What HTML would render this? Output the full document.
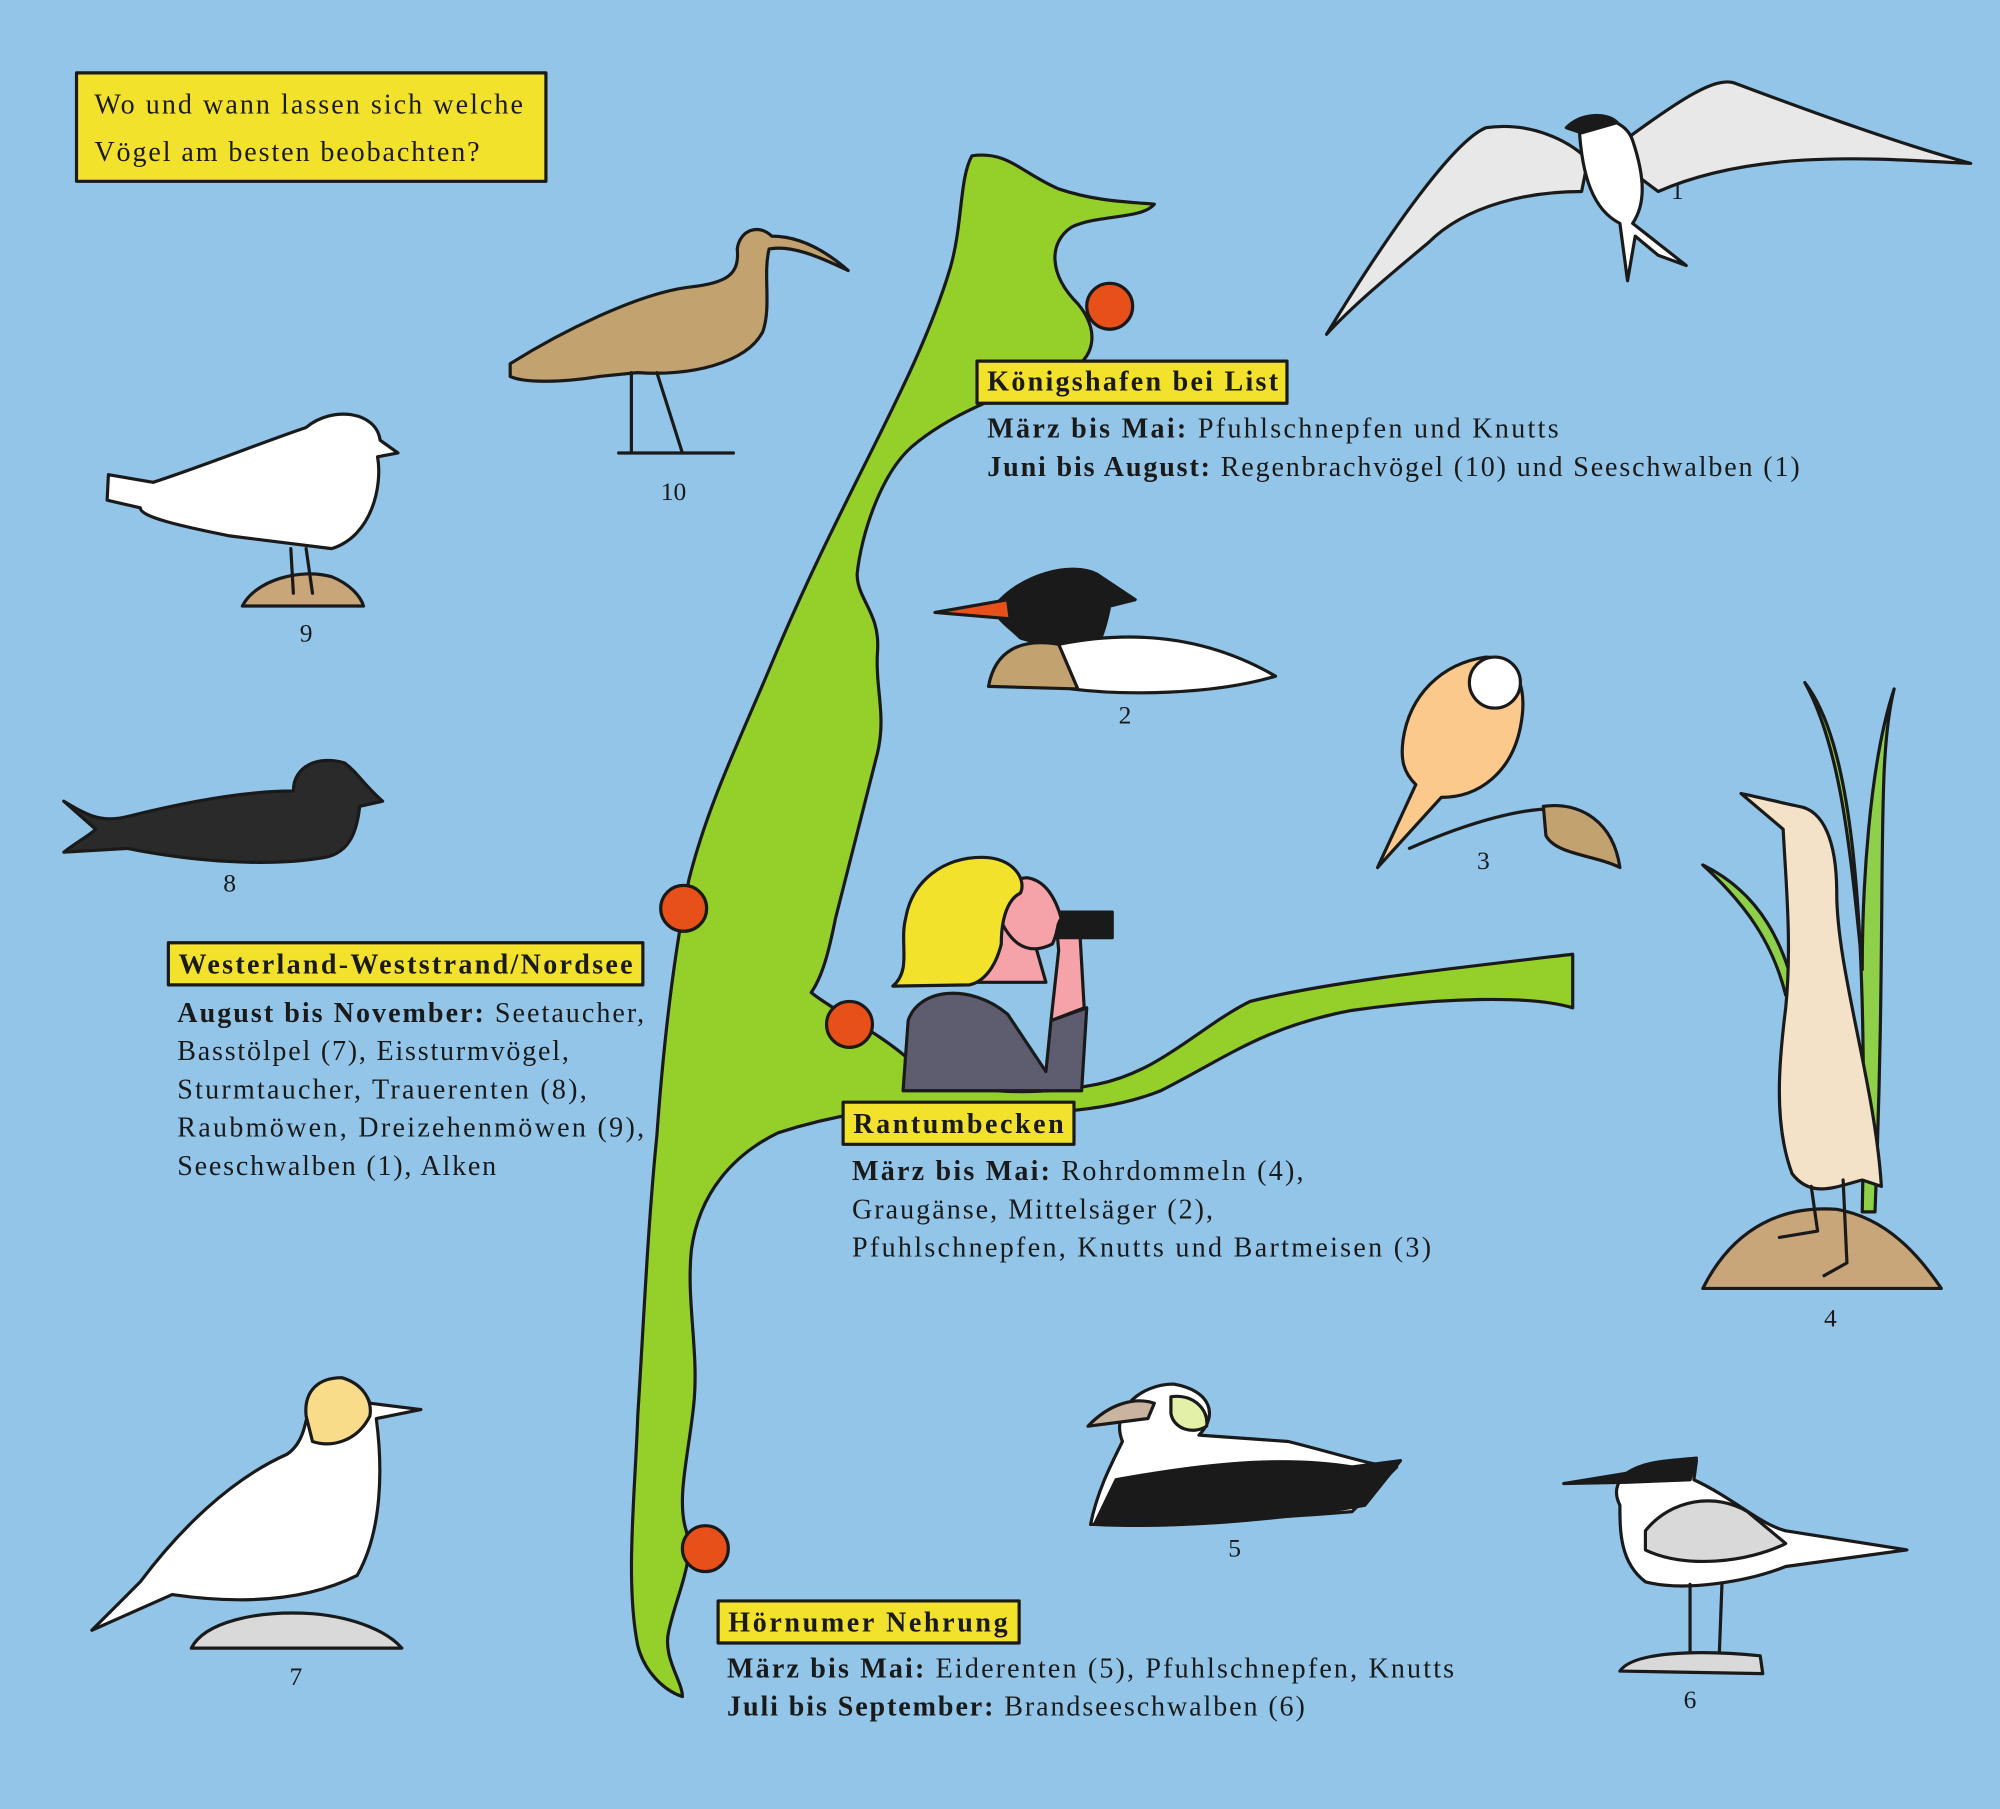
<!DOCTYPE html>
<html><head><meta charset="utf-8"><style>
html,body{margin:0;padding:0;background:#92c5e8}
svg{display:block}
text{font-family:"Liberation Serif",serif;fill:#1a1a1a}
</style></head><body>
<svg width="2000" height="1809" viewBox="0 0 1568 1418" xmlns="http://www.w3.org/2000/svg">
<rect width="1568" height="1418" fill="#92c5e8"/>
<g stroke="#1a1a1a" stroke-width="2.5" stroke-linejoin="round" stroke-linecap="round">
<path fill="#95d02a" d="M762,122 C790,118 800,135 830,148 C860,158 885,158 905,160 C895,172 860,168 840,178 C822,190 822,215 845,238 C862,258 860,282 835,292 C800,305 750,320 715,350 C690,372 675,420 672,450 C672,470 690,480 688,510 C686,540 695,560 688,590 C678,630 665,680 655,720 C650,745 645,765 636,778 C650,790 690,810 712,830 C730,855 800,862 860,850 C910,840 940,805 980,785 C1040,770 1130,760 1233,748 L1233,790 C1200,780 1130,782 1060,792 C990,805 960,830 910,855 C860,875 790,875 740,868 C700,866 650,875 610,888 C575,905 548,935 542,980 C538,1020 548,1060 544,1100 C540,1140 530,1175 538,1200 C545,1225 530,1250 524,1280 C520,1300 535,1318 535,1330 C520,1325 505,1310 500,1290 C490,1240 498,1170 500,1110 C505,1030 508,960 515,890 C520,820 528,750 540,690 C555,630 580,580 605,520 C630,460 655,410 680,360 C705,310 730,260 745,210 C755,175 752,140 762,122 Z"/>
<g fill="#e8501a"><circle cx="870" cy="240" r="18"/><circle cx="536" cy="712" r="18"/><circle cx="666" cy="803" r="18"/><circle cx="553" cy="1214" r="18"/></g>
<path fill="#f5a3a8" d="M740,770 L820,770 L800,700 L790,690 L760,700 Z"/>
<path fill="#5e5d70" d="M708,855 L712,800 C720,775 760,770 790,795 L820,840 L824,800 L852,790 L848,855 Z"/>
<path fill="#f5a3a8" d="M824,800 L830,745 L828,722 L846,720 L850,790 Z"/>
<rect x="810" y="715" width="62" height="20" fill="#1a1a1a"/>
<path fill="#f5a3a8" d="M790,690 C780,690 775,700 780,710 C790,740 805,750 825,740 C830,730 828,725 832,720 C828,705 820,690 805,688 Z"/>
<path fill="#f3e22c" d="M700,773 C715,760 705,740 710,720 C715,690 740,672 770,672 C795,672 805,690 800,700 C790,705 785,720 785,740 C780,760 770,770 760,772 Z"/>
<path fill="#e8e8e8" d="M1040,262 C1090,180 1140,110 1165,100 C1200,95 1230,110 1245,125 L1240,150 C1200,150 1150,160 1120,190 C1090,215 1060,240 1040,262 Z"/>
<path fill="#e8e8e8" d="M1260,120 C1320,75 1345,60 1360,65 C1400,80 1480,110 1545,128 C1480,125 1380,115 1300,150 Z"/>
<path fill="#fff" d="M1238,98 C1255,88 1275,95 1280,110 C1290,140 1290,160 1280,175 L1322,208 L1300,200 L1282,185 L1276,220 L1270,175 C1250,165 1240,140 1238,98 Z"/>
<path fill="#1a1a1a" d="M1228,100 C1240,88 1260,88 1268,96 L1240,104 Z"/>
<path fill="#c2a26e" d="M400,285 C440,260 500,230 540,225 C570,222 580,215 578,195 C580,180 595,175 605,185 C620,185 640,190 665,212 C640,200 620,192 603,195 C598,215 605,240 598,260 C585,285 540,295 500,292 L470,295 C440,300 410,300 400,295 Z"/>
<path fill="none" d="M495,292 L495,355 M515,292 L535,355 M485,355 L575,355"/>
<path fill="#fff" d="M240,335 C260,318 295,322 298,345 L312,355 L296,358 C300,380 292,420 260,430 L180,420 C140,412 110,405 110,398 L84,392 L85,372 L120,378 C160,365 210,345 240,335 Z"/>
<path fill="#c9a57a" d="M190,475 C200,455 235,445 260,452 C275,458 283,468 285,475 Z"/>
<path fill="none" d="M228,430 L230,465 M240,430 L245,465"/>
<path fill="#1a1a1a" d="M780,475 C800,450 840,440 860,450 L890,470 L870,475 C865,500 860,510 850,515 L800,500 C790,490 780,485 780,475 Z"/>
<path fill="#e8501a" d="M733,480 L790,470 L792,485 Z"/>
<path fill="#fff" d="M830,505 C880,495 940,495 1000,530 C950,545 880,545 840,540 Z"/>
<path fill="#c2a26e" d="M775,538 C780,510 800,500 830,505 L845,540 Z"/>
<path fill="#fbc98c" d="M1100,580 C1105,545 1130,520 1165,515 C1190,515 1198,540 1192,570 C1185,605 1160,625 1130,625 L1080,680 L1110,615 C1100,605 1098,595 1100,580 Z"/>
<circle cx="1172" cy="535" r="20" fill="#fff"/>
<path fill="none" d="M1105,665 C1150,645 1200,630 1230,635"/>
<path fill="#c2a26e" d="M1210,632 C1240,628 1265,645 1270,680 C1250,670 1220,670 1212,655 Z"/>
<path fill="#8ed04a" d="M1415,535 C1450,580 1465,700 1460,950 L1470,950 C1480,700 1470,600 1485,540 C1465,600 1460,700 1460,760 C1450,650 1440,580 1415,535 Z"/>
<path fill="#8ed04a" d="M1335,678 C1380,700 1400,740 1410,790 L1400,780 C1390,740 1370,710 1335,678 Z"/>
<path fill="#c9a57a" d="M1335,1010 C1360,960 1400,945 1440,948 C1480,955 1505,985 1522,1010 Z"/>
<path fill="#f3e2c8" d="M1365,622 C1380,625 1400,630 1410,632 C1430,635 1440,660 1440,700 C1440,760 1470,850 1475,930 L1460,925 C1440,930 1420,940 1405,920 C1390,880 1395,830 1400,790 C1405,740 1400,690 1398,650 Z"/>
<path fill="none" d="M1420,930 L1425,965 L1395,970 M1445,925 L1448,990 L1430,1000"/>
<path fill="#2a2a2a" d="M50,628 C70,640 80,645 100,640 C140,630 190,620 230,620 C230,600 250,592 270,598 C280,605 285,615 300,628 L282,632 C280,650 275,668 255,672 C210,680 150,675 100,665 L50,668 C60,660 70,655 75,650 Z"/>
<path fill="#fff" d="M880,1130 C870,1105 895,1085 920,1085 C950,1090 955,1110 940,1125 L1010,1130 C1050,1140 1080,1150 1095,1150 L1060,1185 C1000,1190 900,1195 855,1195 C860,1170 870,1150 880,1130 Z"/>
<path fill="#1a1a1a" d="M875,1160 C930,1150 1000,1140 1060,1150 L1098,1145 L1070,1180 C1000,1192 920,1198 858,1195 Z"/>
<path fill="#e2f0a8" d="M918,1095 C935,1092 948,1105 946,1118 C935,1125 920,1120 918,1108 Z"/>
<path fill="#c9b4a0" d="M853,1118 C870,1100 890,1095 905,1100 L900,1112 Z"/>
<path fill="#fff" d="M245,1090 C265,1075 285,1085 290,1100 L330,1105 L295,1112 C300,1150 300,1200 280,1235 C240,1255 190,1258 135,1250 L72,1278 L110,1240 C140,1200 180,1160 225,1140 C240,1130 240,1110 245,1090 Z"/>
<path fill="#f8dc8a" d="M240,1110 C238,1090 250,1080 268,1080 C285,1085 292,1098 290,1110 C280,1130 260,1135 245,1130 Z"/>
<path fill="#d9d9d9" d="M150,1292 C160,1272 200,1262 245,1265 C280,1268 305,1280 315,1292 Z"/>
<path fill="#d9d9d9" d="M1270,1310 C1280,1295 1330,1293 1380,1298 L1382,1312 Z"/>
<path fill="#fff" d="M1270,1180 C1260,1160 1280,1148 1300,1150 L1330,1145 L1328,1160 C1360,1175 1380,1195 1400,1200 L1495,1215 L1400,1228 C1370,1240 1320,1248 1290,1240 C1270,1225 1270,1200 1270,1180 Z"/>
<path fill="#d9d9d9" d="M1290,1200 C1310,1175 1345,1170 1370,1185 L1400,1210 C1370,1225 1320,1230 1290,1215 Z"/>
<path fill="#1a1a1a" d="M1226,1163 L1275,1155 C1290,1145 1310,1145 1330,1143 L1325,1160 L1275,1162 Z"/>
<path fill="none" d="M1325,1242 L1325,1295 M1350,1242 L1348,1295"/>
<g fill="#f3e22c">
<rect x="60" y="57" width="368" height="85"/>
<rect x="766" y="283" width="243" height="33"/>
<rect x="132" y="739" width="372" height="33"/>
<rect x="661" y="864" width="181" height="33"/>
<rect x="563" y="1255" width="236" height="33"/>
</g>
</g>
<text x="74" y="89" font-size="22" textLength="336" lengthAdjust="spacing">Wo und wann lassen sich welche</text>
<text x="74" y="126" font-size="22" textLength="302" lengthAdjust="spacing">Vögel am besten beobachten?</text>
<g font-size="22" font-weight="bold">
<text x="774" y="306" textLength="228" lengthAdjust="spacing">Königshafen bei List</text>
<text x="140" y="763" textLength="356" lengthAdjust="spacing">Westerland-Weststrand/Nordsee</text>
<text x="669" y="888" textLength="165" lengthAdjust="spacing">Rantumbecken</text>
<text x="571" y="1279" textLength="219" lengthAdjust="spacing">Hörnumer Nehrung</text>
</g>
<g font-size="22">
<text x="774" y="343" textLength="448" lengthAdjust="spacing"><tspan font-weight="bold">März bis Mai:</tspan> Pfuhlschnepfen und Knutts</text>
<text x="774" y="373" textLength="637" lengthAdjust="spacing"><tspan font-weight="bold">Juni bis August:</tspan> Regenbrachvögel (10) und Seeschwalben (1)</text>
<text x="139" y="801" textLength="366" lengthAdjust="spacing"><tspan font-weight="bold">August bis November:</tspan> Seetaucher,</text>
<text x="139" y="831" textLength="307" lengthAdjust="spacing">Basstölpel (7), Eissturmvögel,</text>
<text x="139" y="861" textLength="321" lengthAdjust="spacing">Sturmtaucher, Trauerenten (8),</text>
<text x="139" y="891" textLength="366" lengthAdjust="spacing">Raubmöwen, Dreizehenmöwen (9),</text>
<text x="139" y="921" textLength="250" lengthAdjust="spacing">Seeschwalben (1), Alken</text>
<text x="668" y="925" textLength="354" lengthAdjust="spacing"><tspan font-weight="bold">März bis Mai:</tspan> Rohrdommeln (4),</text>
<text x="668" y="955" textLength="283" lengthAdjust="spacing">Graugänse, Mittelsäger (2),</text>
<text x="668" y="985" textLength="454" lengthAdjust="spacing">Pfuhlschnepfen, Knutts und Bartmeisen (3)</text>
<text x="570" y="1315" textLength="570" lengthAdjust="spacing"><tspan font-weight="bold">März bis Mai:</tspan> Eiderenten (5), Pfuhlschnepfen, Knutts</text>
<text x="570" y="1345" textLength="453" lengthAdjust="spacing"><tspan font-weight="bold">Juli bis September:</tspan> Brandseeschwalben (6)</text>
</g>
<g font-size="20" text-anchor="middle">
<text x="1315" y="156">1</text><text x="528" y="392">10</text><text x="240" y="503">9</text>
<text x="882" y="567">2</text><text x="1163" y="681">3</text><text x="180" y="699">8</text>
<text x="1435" y="1040">4</text><text x="968" y="1220">5</text><text x="232" y="1321">7</text>
<text x="1325" y="1339">6</text>
</g>
</svg>
</body></html>
